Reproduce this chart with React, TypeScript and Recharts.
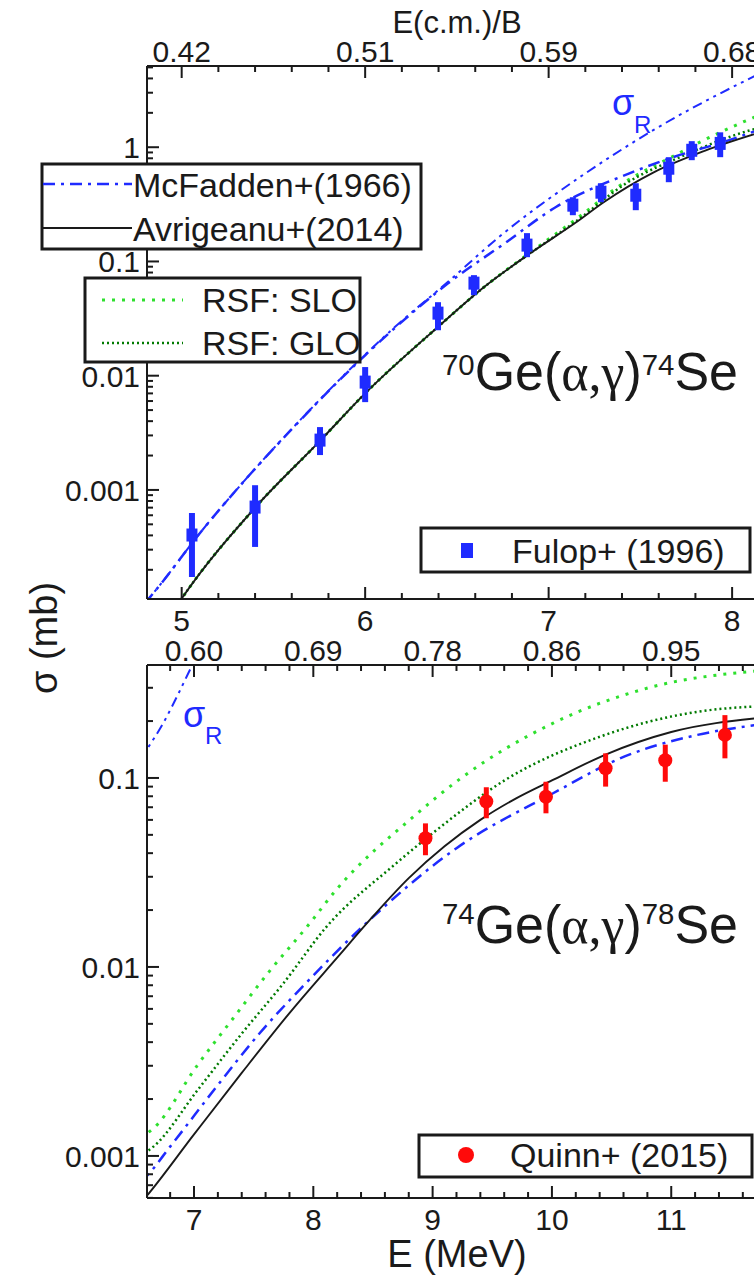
import React from 'react';
import { ComposedChart, Line, Scatter, XAxis, YAxis, ErrorBar } from 'recharts';

const FONT = '"Liberation Sans", Arial, Helvetica, sans-serif';
const SERIF = '"Liberation Serif", "DejaVu Serif", serif';
const INK = '#1a1a1a';
const BLUE = '#1f2bff';
const LGREEN = '#2ee02e';
const DGREEN = '#007a00';

// ---------------- Top panel: 70Ge(a,g)74Se ----------------
const topAvrE = [4.95, 5.0, 5.4, 5.75, 6.0, 6.4, 6.65, 6.9, 7.15, 7.3, 7.57, 7.85, 8.16];
const topAvrS = [8.5e-5, 1.12e-4, 7.0e-4, 2.65e-3, 7.0e-3, 0.027, 0.06, 0.118, 0.22, 0.33, 0.6, 0.93, 1.36];

const topMcfE = [4.8, 4.88, 5.1, 5.335, 5.6, 6.0, 6.16, 6.45, 6.76, 7.04, 7.44, 7.68, 7.96, 8.16];
const topMcfS = [1.02e-4, 1.46e-4, 4.2e-4, 1.17e-3, 3.4e-3, 0.0151, 0.026, 0.064, 0.144, 0.3, 0.59, 0.82, 1.12, 1.45];

const topSigRE = [4.8, 4.88, 5.1, 5.335, 5.6, 6.0, 6.16, 6.45, 6.73, 7.2, 7.57, 8.16];
const topSigRS = [1.02e-4, 1.46e-4, 4.2e-4, 1.17e-3, 3.42e-3, 0.0153, 0.0265, 0.066, 0.164, 0.59, 1.41, 4.5];

const topSloE = [4.95, 5.0, 5.4, 5.75, 6.0, 6.4, 6.65, 6.9, 7.15, 7.42, 7.67, 7.83, 8.16];
const topSloS = [8.5e-5, 1.12e-4, 7.0e-4, 2.65e-3, 7.0e-3, 0.027, 0.06, 0.12, 0.235, 0.5, 0.82, 1.12, 1.95];

const topGloE = [4.95, 5.0, 5.4, 5.75, 6.0, 6.4, 6.65, 6.9, 7.15, 7.42, 7.74, 8.01, 8.16];
const topGloS = [8.5e-5, 1.12e-4, 7.0e-4, 2.65e-3, 7.0e-3, 0.027, 0.06, 0.118, 0.225, 0.48, 0.85, 1.27, 1.5];

const fulopE = [5.056, 5.4, 5.754, 6.0, 6.397, 6.593, 6.882, 7.132, 7.285, 7.475, 7.655, 7.78, 7.935];
const fulopS = [4.03e-4, 7.08e-4, 2.73e-3, 8.79e-3, 0.0353, 0.0646, 0.139, 0.311, 0.404, 0.38, 0.655, 0.94, 1.08];
const fulopLo = [1.73e-4, 3.17e-4, 2.02e-3, 5.87e-3, 0.025, 0.0507, 0.109, 0.254, 0.33, 0.281, 0.494, 0.77, 0.818];
const fulopHi = [6.28e-4, 1.1e-3, 3.55e-3, 0.0119, 0.044, 0.0759, 0.177, 0.365, 0.484, 0.484, 0.818, 1.13, 1.35];

const topXMajor = [5, 6, 7, 8];
const topXLabels = ['5', '6', '7', '8'];
const topXTopLabels = ['0.42', '0.51', '0.59', '0.68'];
const topYMajor = [0.001, 0.01, 0.1, 1];
const topYLabels = ['0.001', '0.01', '0.1', '1'];
const topXDomain = [4.811, 8.152];
const topYDomain = [1.11e-4, 5.14];

// ---------------- Bottom panel: 74Ge(a,g)78Se ----------------
const botAvrE = [6.55, 6.6, 7.0, 7.4, 7.8, 8.2, 8.5, 8.8, 9.1, 9.4, 9.7, 10.0, 10.45, 11.0, 11.75];
const botAvrS = [5.6e-4, 6.1e-4, 1.3e-3, 2.75e-3, 5.7e-3, 0.0112, 0.0185, 0.0295, 0.0435, 0.06, 0.078, 0.097, 0.133, 0.175, 0.208];

const botMcfE = [6.55, 6.6, 6.8, 7.19, 7.55, 7.91, 8.45, 9.2, 10.01, 10.61, 11.22, 11.75];
const botMcfS = [7.3e-4, 7.8e-4, 1.12e-3, 2.33e-3, 4.46e-3, 7.87e-3, 0.0172, 0.0425, 0.083, 0.13, 0.169, 0.192];

const botSloE = [6.55, 6.66, 7.03, 7.33, 7.63, 7.97, 8.19, 8.84, 9.24, 10.01, 10.81, 11.75];
const botSloS = [1.25e-3, 1.4e-3, 3.03e-3, 5.37e-3, 9.45e-3, 0.017, 0.0255, 0.0624, 0.1, 0.195, 0.3, 0.37];

const botGloE = [6.55, 6.66, 7.03, 7.39, 7.75, 8.11, 8.68, 9.0, 9.61, 10.41, 11.22, 11.75];
const botGloS = [1.0e-3, 1.12e-3, 2.23e-3, 4.36e-3, 8.2e-3, 0.0163, 0.0347, 0.051, 0.0977, 0.166, 0.224, 0.24];

const botSigRE = [6.55, 6.6, 6.74, 6.87, 6.99, 7.1];
const botSigRS = [0.125, 0.14, 0.194, 0.28, 0.4, 0.53];

const quinnE = [8.94, 9.45, 9.95, 10.45, 10.95, 11.45];
const quinnS = [0.048, 0.075, 0.0796, 0.1125, 0.124, 0.169];
const quinnLo = [0.039, 0.0612, 0.065, 0.09, 0.0955, 0.127];
const quinnHi = [0.0575, 0.0893, 0.0955, 0.135, 0.15, 0.215];

const botXMajor = [7, 8, 9, 10, 11];
const botXLabels = ['7', '8', '9', '10', '11'];
const botXTopLabels = ['0.60', '0.69', '0.78', '0.86', '0.95'];
const botYMajor = [0.001, 0.01, 0.1];
const botYLabels = ['0.001', '0.01', '0.1'];
const botXDomain = [6.606, 11.744];
const botYDomain = [5.99e-4, 0.396];

// ---------------- helpers ----------------
const zip = (xs: number[], ys: number[]) => xs.map((x, i) => ({ x, y: ys[i] }));
const zipErr = (xs: number[], ys: number[], lo: number[], hi: number[]) =>
  xs.map((x, i) => ({ x, y: ys[i], err: [ys[i] - lo[i], hi[i] - ys[i]] }));

const linearTicks = (d: number[]) => {
  const out: number[] = [];
  for (let k = Math.ceil(d[0] * 5); k <= Math.floor(d[1] * 5); k++) out.push(Math.round(k * 2) / 10);
  return out;
};
const logTicks = (d: number[]) => {
  const out: number[] = [];
  for (let e = -5; e <= 1; e++) {
    for (let m = 1; m <= 9; m++) {
      const v = parseFloat((m * Math.pow(10, e)).toPrecision(6));
      if (v >= d[0] && v <= d[1]) out.push(v);
    }
  }
  return out;
};
const findMajor = (v: number, majors: number[]) => majors.findIndex((m) => Math.abs(v / m - 1) < 1e-6);

const TICK_FS = 30;

const makeBottomTick = (majors: number[], labels: string[]) => (props: any) => {
  const { x, y, payload } = props;
  const i = findMajor(payload.value, majors);
  return (
    <g>
      <line x1={x} x2={x} y1={y} y2={y - (i >= 0 ? 12 : 6)} stroke={INK} strokeWidth={2} />
      {i >= 0 && (
        <text x={x} y={y + 32} textAnchor="middle" fontSize={TICK_FS} fontFamily={FONT} fill={INK}>
          {labels[i]}
        </text>
      )}
    </g>
  );
};
const makeTopTick = (majors: number[], labels: string[]) => (props: any) => {
  const { x, y, payload } = props;
  const i = findMajor(payload.value, majors);
  return (
    <g>
      <line x1={x} x2={x} y1={y} y2={y + (i >= 0 ? 12 : 6)} stroke={INK} strokeWidth={2} />
      {i >= 0 && (
        <text x={x} y={y - 4} textAnchor="middle" fontSize={TICK_FS} fontFamily={FONT} fill={INK}>
          {labels[i]}
        </text>
      )}
    </g>
  );
};
const makeLeftTick = (majors: number[], labels: string[]) => (props: any) => {
  const { x, y, payload } = props;
  const i = findMajor(payload.value, majors);
  return (
    <g>
      <line x1={x} x2={x + (i >= 0 ? 12 : 6)} y1={y} y2={y} stroke={INK} strokeWidth={2} />
      {i >= 0 && (
        <text x={x - 7} y={y + 11} textAnchor="end" fontSize={TICK_FS} fontFamily={FONT} fill={INK}>
          {labels[i]}
        </text>
      )}
    </g>
  );
};

const square = (p: any) => <rect x={p.cx - 5.5} y={p.cy - 6.5} width={11} height={13} fill={BLUE} />;
const circle = (p: any) => <circle cx={p.cx} cy={p.cy} r={7} fill="#ff0a0a" />;

const axisLine = { stroke: INK, strokeWidth: 2 };
const MCF_DASH = '12 6 3 6';
const SIGR_DASH = '10 5 3 5 3 5';
const SLO_DASH = '3 7';
const GLO_DASH = '2 3';

interface PanelProps {
  height: number;
  topH: number;
  botH: number;
  xDomain: number[];
  yDomain: number[];
  xMajor: number[];
  xLabels: string[];
  xTopLabels: string[];
  yMajor: number[];
  yLabels: string[];
  avr: { x: number; y: number }[];
  mcf: { x: number; y: number }[];
  sigR: { x: number; y: number }[];
  slo: { x: number; y: number }[];
  glo: { x: number; y: number }[];
  pts: { x: number; y: number; err: number[] }[];
  isSquare: boolean;
}

function Panel(p: PanelProps) {
  const xt = linearTicks(p.xDomain);
  const yt = logTicks(p.yDomain);
  const ptColor = p.isSquare ? BLUE : '#ff0a0a';
  return (
    <ComposedChart width={770} height={p.height} margin={{ top: 0, right: 10, bottom: 0, left: 0 }}>
      <XAxis
        xAxisId="b"
        dataKey="x"
        type="number"
        domain={p.xDomain}
        allowDataOverflow
        ticks={xt}
        interval={0}
        tickLine={false}
        tickSize={0}
        tickMargin={0}
        height={p.botH}
        axisLine={axisLine}
        tick={makeBottomTick(p.xMajor, p.xLabels)}
      />
      <XAxis
        xAxisId="t"
        orientation="top"
        dataKey="x"
        type="number"
        domain={p.xDomain}
        allowDataOverflow
        ticks={xt}
        interval={0}
        tickLine={false}
        tickSize={0}
        tickMargin={0}
        height={p.topH}
        axisLine={axisLine}
        tick={makeTopTick(p.xMajor, p.xTopLabels)}
      />
      <YAxis
        yAxisId="l"
        dataKey="y"
        type="number"
        scale="log"
        domain={p.yDomain}
        allowDataOverflow
        ticks={yt}
        interval={0}
        tickLine={false}
        tickSize={0}
        tickMargin={0}
        width={147}
        axisLine={axisLine}
        tick={makeLeftTick(p.yMajor, p.yLabels)}
      />
      <Line xAxisId="b" yAxisId="l" data={p.sigR} dataKey="y" type="monotone" stroke={BLUE} strokeWidth={2} strokeDasharray={SIGR_DASH} dot={false} isAnimationActive={false} />
      <Line xAxisId="b" yAxisId="l" data={p.slo} dataKey="y" type="monotone" stroke={LGREEN} strokeWidth={3} strokeDasharray={SLO_DASH} dot={false} isAnimationActive={false} />
      <Line xAxisId="b" yAxisId="l" data={p.glo} dataKey="y" type="monotone" stroke={DGREEN} strokeWidth={2.5} strokeDasharray={GLO_DASH} dot={false} isAnimationActive={false} />
      <Line xAxisId="b" yAxisId="l" data={p.mcf} dataKey="y" type="monotone" stroke={BLUE} strokeWidth={2.5} strokeDasharray={MCF_DASH} dot={false} isAnimationActive={false} />
      <Line xAxisId="b" yAxisId="l" data={p.avr} dataKey="y" type="monotone" stroke={INK} strokeWidth={1.9} dot={false} isAnimationActive={false} />
      <Scatter xAxisId="b" yAxisId="l" data={p.pts} dataKey="y" shape={p.isSquare ? square : circle} isAnimationActive={false}>
        <ErrorBar dataKey="err" direction="y" width={0} stroke={ptColor} strokeWidth={p.isSquare ? 6 : 5} />
      </Scatter>
    </ComposedChart>
  );
}

function Overlay() {
  const t = { fontFamily: FONT, fill: INK };
  return (
    <svg width={754} height={1275} style={{ position: 'absolute', left: 0, top: 0, pointerEvents: 'none' }}>
      {/* axis titles */}
      <text x={457} y={33} textAnchor="middle" fontSize={31} {...t}>E(c.m.)/B</text>
      <text transform="translate(57,638) rotate(-90)" textAnchor="middle" fontSize={38} {...t}>σ (mb)</text>
      <text x={457} y={1267} textAnchor="middle" fontSize={38} {...t}>E (MeV)</text>

      {/* sigma_R labels */}
      <text x={612} y={115} fontSize={36} fontFamily={FONT} fill={BLUE}>σ</text>
      <text x={634} y={133} fontSize={24} fontFamily={FONT} fill={BLUE}>R</text>
      <text x={183} y={727} fontSize={36} fontFamily={FONT} fill={BLUE}>σ</text>
      <text x={205} y={744} fontSize={24} fontFamily={FONT} fill={BLUE}>R</text>

      {/* reaction titles */}
      <text transform="translate(442,390) scale(0.98,1)" fontSize={53} {...t}>
        <tspan fontSize={30} dy={-15}>70</tspan>
        <tspan dy={15}>Ge(</tspan>
        <tspan fontFamily={SERIF}>α,γ</tspan>
        <tspan>)</tspan>
        <tspan fontSize={30} dy={-15}>74</tspan>
        <tspan dy={15}>Se</tspan>
      </text>
      <text transform="translate(442,943) scale(0.98,1)" fontSize={53} {...t}>
        <tspan fontSize={30} dy={-19}>74</tspan>
        <tspan dy={19}>Ge(</tspan>
        <tspan fontFamily={SERIF}>α,γ</tspan>
        <tspan>)</tspan>
        <tspan fontSize={30} dy={-19}>78</tspan>
        <tspan dy={19}>Se</tspan>
      </text>

      {/* legend: models */}
      <rect x={42} y={164} width={379} height={85} fill="white" stroke={INK} strokeWidth={3} />
      <line x1={43} x2={132} y1={184} y2={184} stroke={BLUE} strokeWidth={2.5} strokeDasharray={MCF_DASH} />
      <text x={133} y={197} fontSize={34} {...t}>McFadden+(1966)</text>
      <line x1={43} x2={132} y1={228} y2={228} stroke={INK} strokeWidth={1.9} />
      <text x={133} y={241} fontSize={34} {...t}>Avrigeanu+(2014)</text>

      {/* legend: RSF */}
      <rect x={85} y={278} width={275} height={84} fill="white" stroke={INK} strokeWidth={3} />
      <line x1={102} x2={183} y1={300} y2={300} stroke={LGREEN} strokeWidth={3} strokeDasharray={SLO_DASH} />
      <text x={202} y={312} fontSize={34} {...t}>RSF: SLO</text>
      <line x1={102} x2={183} y1={343} y2={343} stroke={DGREEN} strokeWidth={2.5} strokeDasharray={GLO_DASH} />
      <text x={202} y={355} fontSize={34} {...t}>RSF: GLO</text>

      {/* legend: Fulop */}
      <rect x={421} y={528} width={329} height={44} fill="white" stroke={INK} strokeWidth={3} />
      <rect x={461} y={543} width={12} height={15} fill={BLUE} />
      <text x={512} y={563} fontSize={34} {...t}>Fulop+ (1996)</text>

      {/* legend: Quinn */}
      <rect x={419} y={1135} width={333} height={42} fill="white" stroke={INK} strokeWidth={3} />
      <circle cx={466} cy={1155} r={8} fill="#ff0a0a" />
      <text x={510} y={1167} fontSize={34} {...t}>Quinn+ (2015)</text>
    </svg>
  );
}

export default function App() {
  return (
    <div style={{ position: 'absolute', left: 0, top: 0, width: 754, height: 1275, overflow: 'hidden', background: 'white' }}>
      <div style={{ position: 'absolute', left: 0, top: 0 }}>
        <Panel
          height={640}
          topH={66}
          botH={41}
          xDomain={topXDomain}
          yDomain={topYDomain}
          xMajor={topXMajor}
          xLabels={topXLabels}
          xTopLabels={topXTopLabels}
          yMajor={topYMajor}
          yLabels={topYLabels}
          avr={zip(topAvrE, topAvrS)}
          mcf={zip(topMcfE, topMcfS)}
          sigR={zip(topSigRE, topSigRS)}
          slo={zip(topSloE, topSloS)}
          glo={zip(topGloE, topGloS)}
          pts={zipErr(fulopE, fulopS, fulopLo, fulopHi)}
          isSquare
        />
      </div>
      <div style={{ position: 'absolute', left: 0, top: 625 }}>
        <Panel
          height={650}
          topH={40}
          botH={77}
          xDomain={botXDomain}
          yDomain={botYDomain}
          xMajor={botXMajor}
          xLabels={botXLabels}
          xTopLabels={botXTopLabels}
          yMajor={botYMajor}
          yLabels={botYLabels}
          avr={zip(botAvrE, botAvrS)}
          mcf={zip(botMcfE, botMcfS)}
          sigR={zip(botSigRE, botSigRS)}
          slo={zip(botSloE, botSloS)}
          glo={zip(botGloE, botGloS)}
          pts={zipErr(quinnE, quinnS, quinnLo, quinnHi)}
          isSquare={false}
        />
      </div>
      <Overlay />
    </div>
  );
}
